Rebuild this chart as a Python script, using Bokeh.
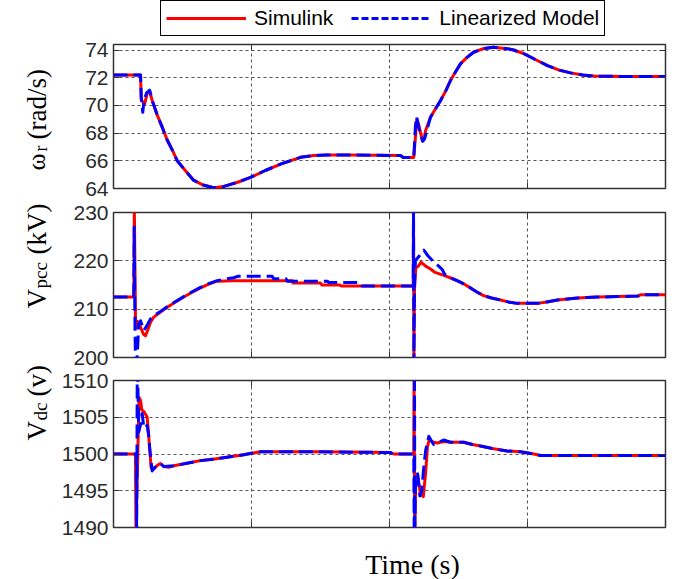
import math
from bokeh.plotting import figure
from bokeh.models import Range1d, FixedTicker, LinearAxis, Legend, LegendItem
from bokeh.layouts import column, row
from bokeh.core.properties import value
from bokeh.embed import file_html
from bokeh.resources import INLINE

# ---------------- data (time axis in arbitrary units 0..4) ----------------
X_TICKS = [1, 2, 3]
W_TICKS = [64, 66, 68, 70, 72, 74]
VPCC_TICKS = [200, 210, 220, 230]
VDC_TICKS = [1490, 1495, 1500, 1505, 1510]

LEGEND_LABELS = ["Simulink", "Linearized Model"]
X_LABEL = "Time (s)"

w_t_sim = [0.000, 0.196, 0.201, 0.225, 0.245, 0.262, 0.285, 0.317, 0.350, 0.389, 0.430, 0.462, 0.520, 0.580,
           0.650, 0.725, 0.800, 0.900, 0.993, 1.100, 1.220, 1.355, 1.450, 1.540, 1.700, 1.900, 2.080, 2.100,
           2.176, 2.190, 2.198, 2.212, 2.235, 2.248, 2.262, 2.297, 2.330, 2.370, 2.410, 2.442, 2.480, 2.514,
           2.560, 2.609, 2.680, 2.754, 2.850, 2.900, 2.971, 3.060, 3.145, 3.230, 3.312, 3.400, 3.478, 3.700, 4.000]
w_sim = [72.20, 72.20, 70.40, 70.10, 70.90, 71.00, 70.20, 69.30, 68.50, 67.50, 66.70, 66.00, 65.30, 64.60,
         64.25, 64.05, 64.15, 64.45, 64.80, 65.30, 65.80, 66.25, 66.38, 66.42, 66.42, 66.40, 66.38, 66.24,
         66.24, 68.00, 69.00, 68.60, 67.60, 67.50, 68.20, 69.15, 69.70, 70.35, 71.10, 71.80, 72.45, 73.00,
         73.45, 73.84, 74.10, 74.20, 74.10, 74.00, 73.75, 73.30, 72.88, 72.55, 72.35, 72.20, 72.12, 72.09, 72.09]

w_t_lin = [0.000, 0.196, 0.201, 0.212, 0.222, 0.240, 0.262, 0.285, 0.317, 0.350, 0.389, 0.430, 0.462, 0.520,
           0.580, 0.650, 0.725, 0.800, 0.900, 0.993, 1.100, 1.220, 1.355, 1.450, 1.540, 1.700, 1.900, 2.080,
           2.100, 2.176, 2.188, 2.196, 2.212, 2.240, 2.255, 2.297, 2.330, 2.370, 2.410, 2.442, 2.480, 2.514,
           2.560, 2.609, 2.680, 2.754, 2.850, 2.900, 2.971, 3.060, 3.145, 3.230, 3.312, 3.400, 3.478, 3.700, 4.000]
w_lin = [72.20, 72.20, 70.60, 69.50, 70.40, 70.90, 71.10, 70.25, 69.30, 68.50, 67.50, 66.70, 66.00, 65.30,
         64.60, 64.25, 64.05, 64.15, 64.45, 64.80, 65.30, 65.80, 66.25, 66.38, 66.42, 66.42, 66.40, 66.38,
         66.24, 66.24, 68.50, 69.20, 68.40, 67.40, 67.60, 69.15, 69.70, 70.35, 71.10, 71.80, 72.45, 73.00,
         73.45, 73.84, 74.10, 74.20, 74.10, 74.00, 73.75, 73.30, 72.88, 72.55, 72.35, 72.20, 72.12, 72.09, 72.09]

vpcc_t_sim = [0.000, 0.147, 0.151, 0.160, 0.170, 0.183, 0.200, 0.218, 0.232, 0.250, 0.268, 0.290, 0.340, 0.389,
              0.450, 0.509, 0.570, 0.630, 0.690, 0.751, 0.870, 1.297, 1.300, 1.500, 1.510, 1.640, 1.650, 2.172,
              2.174, 2.177, 2.181, 2.190, 2.205, 2.230, 2.262, 2.297, 2.330, 2.393, 2.440, 2.490, 2.540, 2.587,
              2.630, 2.681, 2.740, 2.804, 2.860, 2.925, 3.072, 3.140, 3.217, 3.290, 3.362, 3.430, 3.507, 3.650,
              3.800, 3.820, 4.000]
vpcc_sim = [212.5, 212.5, 231.0, 206.0, 207.5, 207.2, 206.0, 204.8, 204.5, 205.8, 207.3, 208.3, 209.4, 210.4,
            211.5, 212.5, 213.5, 214.4, 215.2, 215.8, 215.9, 215.9, 215.4, 215.4, 215.0, 215.0, 214.8, 214.8,
            231.0, 199.0, 214.0, 218.5, 218.8, 219.7, 218.9, 218.3, 217.6, 217.0, 216.5, 215.9, 215.2, 214.4,
            213.6, 212.8, 212.3, 211.9, 211.5, 211.2, 211.2, 211.5, 211.9, 212.1, 212.3, 212.4, 212.5, 212.6,
            212.7, 213.0, 213.0]

vpcc_t_lin = [0.000, 0.147, 0.150, 0.156, 0.160, 0.170, 0.183, 0.196, 0.220, 0.240, 0.268, 0.300, 0.340, 0.389,
              0.450, 0.509, 0.570, 0.630, 0.690, 0.751, 0.820, 0.870, 0.900, 1.150, 1.160, 1.250, 1.260, 1.550,
              1.560, 1.790, 1.800, 2.172, 2.174, 2.177, 2.181, 2.188, 2.215, 2.249, 2.280, 2.320, 2.360, 2.382,
              2.400, 2.440, 2.490, 2.540, 2.587, 2.630, 2.681, 2.740, 2.804, 2.860, 2.925, 3.072, 3.140, 3.217,
              3.290, 3.362, 3.430, 3.507, 3.650, 3.800, 3.820, 4.000]
vpcc_lin = [212.5, 212.5, 227.0, 205.0, 199.0, 199.0, 207.0, 207.6, 205.6, 206.5, 208.0, 208.8, 209.5, 210.5,
            211.6, 212.6, 213.6, 214.5, 215.3, 215.9, 216.3, 216.5, 216.8, 216.8, 216.3, 216.3, 215.8, 215.8,
            215.5, 215.5, 214.8, 214.8, 231.0, 199.0, 215.0, 220.0, 221.0, 222.2, 221.0, 219.8, 218.8, 218.2,
            217.2, 216.5, 215.9, 215.2, 214.4, 213.6, 212.8, 212.3, 211.9, 211.5, 211.2, 211.2, 211.5, 211.9,
            212.1, 212.3, 212.4, 212.5, 212.6, 212.7, 213.0, 213.0]

vdc_t_sim = [0.000, 0.159, 0.163, 0.185, 0.196, 0.205, 0.220, 0.244, 0.255, 0.265, 0.272, 0.285, 0.300, 0.320,
             0.341, 0.364, 0.400, 0.437, 0.550, 0.630, 0.720, 0.797, 0.870, 0.944, 1.000, 1.065, 1.500, 2.007,
             2.029, 2.176, 2.178, 2.182, 2.190, 2.205, 2.225, 2.245, 2.262, 2.275, 2.290, 2.300, 2.320, 2.345,
             2.393, 2.442, 2.538, 2.600, 2.659, 2.756, 2.853, 2.949, 3.046, 3.094, 4.000]
vdc_sim = [1500.0, 1500.0, 1489.0, 1507.7, 1507.3, 1506.0, 1505.8, 1505.0, 1502.5, 1500.0, 1498.2, 1497.9,
           1498.1, 1498.5, 1498.7, 1498.3, 1498.2, 1498.4, 1498.8, 1499.1, 1499.3, 1499.5, 1499.7, 1499.9,
           1500.1, 1500.3, 1500.3, 1500.2, 1500.0, 1500.0, 1511.0, 1489.0, 1496.0, 1497.0, 1494.5, 1494.2,
           1497.5, 1501.0, 1502.1, 1501.8, 1501.6, 1501.5, 1501.7, 1501.6, 1501.6, 1501.3, 1501.1, 1500.7,
           1500.4, 1500.3, 1500.0, 1499.8, 1499.8]

vdc_t_lin = [0.000, 0.159, 0.165, 0.168, 0.172, 0.176, 0.183, 0.196, 0.208, 0.220, 0.235, 0.244, 0.255, 0.263,
             0.272, 0.280, 0.300, 0.341, 0.364, 0.437, 0.550, 0.630, 0.720, 0.797, 0.870, 0.944, 1.000, 1.065,
             1.500, 2.007, 2.029, 2.176, 2.179, 2.181, 2.184, 2.188, 2.204, 2.220, 2.232, 2.250, 2.262, 2.285,
             2.300, 2.320, 2.345, 2.393, 2.442, 2.538, 2.600, 2.659, 2.756, 2.853, 2.949, 3.046, 3.094, 4.000]
vdc_lin = [1500.0, 1500.0, 1500.0, 1489.0, 1511.0, 1510.0, 1503.0, 1504.0, 1505.5, 1503.5, 1503.7, 1503.9,
           1502.5, 1500.7, 1499.0, 1497.7, 1498.2, 1498.7, 1498.3, 1498.4, 1498.8, 1499.1, 1499.3, 1499.5,
           1499.7, 1499.9, 1500.1, 1500.3, 1500.3, 1500.2, 1500.0, 1500.0, 1489.0, 1511.0, 1489.0, 1496.8,
           1497.3, 1494.3, 1494.8, 1498.5, 1500.5, 1502.4, 1501.9, 1501.3, 1501.5, 1501.9, 1501.6, 1501.6,
           1501.3, 1501.1, 1500.7, 1500.4, 1500.3, 1500.0, 1499.8, 1499.8]

# ---------------- styling ----------------
RED = "#ff0000"
BLUE = "#0000ff"
LW = 3
DASH = "14 6"
TICK_FONT = "Liberation Sans"
SERIF = "Liberation Serif"
W = 683
LEFT_W = 57          # width of the column holding the rotated y-axis titles
TOP_H = 37           # legend strip
BOTTOM_H = 39        # x-axis title strip

x_range = Range1d(0, 4)


def style_axis(ax, show_labels):
    ax.major_tick_in = 6
    ax.major_tick_out = 0
    ax.minor_tick_in = 0
    ax.minor_tick_out = 0
    ax.axis_line_color = None
    ax.major_tick_line_color = "#333333"
    ax.major_tick_line_width = 1
    if show_labels:
        ax.major_label_text_font = TICK_FONT
        ax.major_label_text_font_size = "21px"
        ax.major_label_text_color = "#2a2a2a"
        ax.major_label_standoff = 5
    else:
        ax.major_label_text_font_size = "1px"
        ax.major_label_text_color = None
        ax.major_label_standoff = 0


def make_panel(y0, y1, yticks, frame_h, top, bottom):
    p = figure(frame_width=552, frame_height=frame_h, x_range=x_range, y_range=Range1d(y0, y1),
               output_backend="svg", toolbar_location=None,
               min_border_left=56, min_border_right=18, min_border_top=top, min_border_bottom=bottom,
               background_fill_color="white", border_fill_color="white")
    p.outline_line_color = "#333333"
    p.outline_line_width = 1.5
    p.outline_line_alpha = 1.0
    p.xaxis.ticker = FixedTicker(ticks=X_TICKS)
    p.yaxis.ticker = FixedTicker(ticks=yticks)
    for ax in p.xaxis:
        style_axis(ax, False)
    for ax in p.yaxis:
        style_axis(ax, True)
    right = LinearAxis(ticker=FixedTicker(ticks=yticks))
    style_axis(right, False)
    p.add_layout(right, "right")
    topax = LinearAxis(ticker=FixedTicker(ticks=X_TICKS))
    style_axis(topax, False)
    p.add_layout(topax, "above")
    for g in (p.xgrid, p.ygrid):
        g.grid_line_color = "#555555"
        g.grid_line_dash = "3 3"
        g.grid_line_width = 1
    return p


def add_series(p, t_sim, y_sim, t_lin, y_lin):
    p.line(t_sim, y_sim, line_color=RED, line_width=LW, line_join="round")
    p.line(t_lin, y_lin, line_color=BLUE, line_width=LW, line_dash=DASH, line_join="round")


def blank(width, height):
    f = figure(width=width, height=height, x_range=Range1d(0, width), y_range=Range1d(0, height),
               x_axis_type=None, y_axis_type=None, min_border=0, output_backend="svg",
               toolbar_location=None, background_fill_color="white", border_fill_color="white")
    f.outline_line_color = None
    f.grid.visible = False
    return f


# ---------------- panels ----------------
p1 = make_panel(64, 74.4, W_TICKS, 144, 7, 12)      # page y 37..200, frame 44..188
add_series(p1, w_t_sim, w_sim, w_t_lin, w_lin)

p2 = make_panel(200, 230, VPCC_TICKS, 145, 12, 12)  # page y 200..369, frame 212..357
add_series(p2, vpcc_t_sim, vpcc_sim, vpcc_t_lin, vpcc_lin)

p3 = make_panel(1490, 1510, VDC_TICKS, 147, 11, 13)  # page y 369..540, frame 380..527
add_series(p3, vdc_t_sim, vdc_sim, vdc_t_lin, vdc_lin)

# ---------------- y-axis titles (rotated, with subscripts) ----------------
mid_h = 163 + 169 + 171
left = blank(LEFT_W, mid_h)


def ytitle(parts):
    # (text, page-x of baseline, page-y where the text starts, font size)
    for text, px, py, size in parts:
        left.text(x=[px], y=[TOP_H + mid_h - py], text=[text], angle=math.pi / 2,
                  text_font=value(SERIF), text_font_size=value(size), text_color="black",
                  text_align="left", text_baseline="alphabetic")


ytitle([("ω", 36, 170, "26px"), ("r", 40, 151, "18px"), ("(rad/s)", 36, 139, "27px")])
ytitle([("V", 36, 308, "27px"), ("pcc", 40, 288, "19px"), ("(kV)", 36, 254, "27px")])
ytitle([("V", 36, 440, "27px"), ("dc", 40, 420, "19px"), ("(v)", 36, 396, "27px")])

# ---------------- legend strip ----------------
# The legend's sample lines reuse the first panel's series; their values lie far outside
# this strip's range, so only the legend swatches are visible here.
top = blank(W, TOP_H)
proxy_r = top.line(w_t_sim, w_sim, line_color=RED, line_width=LW)
proxy_b = top.line(w_t_lin, w_lin, line_color=BLUE, line_width=LW, line_dash="7 3")
legend = Legend(items=[LegendItem(label=LEGEND_LABELS[0], renderers=[proxy_r]),
                       LegendItem(label=LEGEND_LABELS[1], renderers=[proxy_b])],
                orientation="horizontal", location=(160, 1),
                label_text_font=TICK_FONT, label_text_font_size="21px", label_text_color="black",
                glyph_width=80, glyph_height=20, label_standoff=8, spacing=18, padding=5, margin=0,
                border_line_color="black", border_line_width=1.5, border_line_alpha=1.0,
                background_fill_color="white", background_fill_alpha=1.0)
top.add_layout(legend)

# ---------------- x-axis title strip ----------------
bottom = blank(W, BOTTOM_H)
bottom.text(x=[412], y=[579 - 564], text=[X_LABEL], text_font=value(SERIF), text_font_size=value("28px"),
            text_color="black", text_align="center", text_baseline="alphabetic")

layout = column(top, row(left, column(p1, p2, p3, spacing=0), spacing=0), bottom, spacing=0)
with open("out.html", "w") as f:
    f.write(file_html(layout, INLINE, "chart"))
